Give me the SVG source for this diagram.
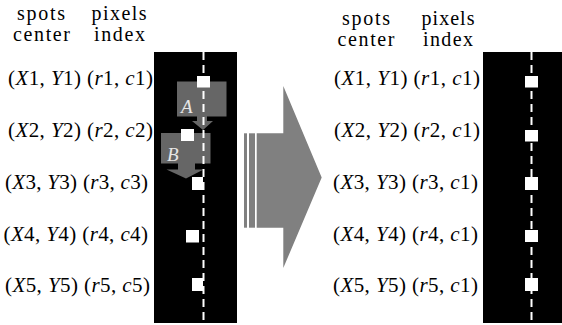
<svg xmlns="http://www.w3.org/2000/svg" width="562" height="325" viewBox="0 0 562 325">
<style>
.i{font-style:italic}
.panel{fill:#000}
.sq{fill:#fff}
.dash{stroke:#fff;stroke-width:2;stroke-dasharray:8 5;fill:none}
.box{fill:#666}
.big{fill:#808080}
</style>
<rect width="562" height="325" fill="#fff"/>
<g id="headers" font-family="'Liberation Serif', 'DejaVu Serif', serif" font-size="20" fill="#000">
<text x="41" y="20" text-anchor="middle" textLength="48">spots</text>
<text x="41.5" y="41" text-anchor="middle" textLength="57">center</text>
<text x="119" y="20" text-anchor="middle" textLength="55">pixels</text>
<text x="119.5" y="41" text-anchor="middle" textLength="51">index</text>
<text x="366" y="25" text-anchor="middle" textLength="48">spots</text>
<text x="366" y="46" text-anchor="middle" textLength="57">center</text>
<text x="448" y="25" text-anchor="middle" textLength="53">pixels</text>
<text x="448" y="46" text-anchor="middle" textLength="50">index</text>
</g>
<g id="left-labels" font-family="'Liberation Serif', 'DejaVu Serif', serif" font-size="21" fill="#000">
<text x="8" y="85" textLength="145">(<tspan class="i">X</tspan>1, <tspan class="i">Y</tspan>1) (<tspan class="i">r</tspan>1, <tspan class="i">c</tspan>1)</text>
<text x="8" y="137" textLength="145">(<tspan class="i">X</tspan>2, <tspan class="i">Y</tspan>2) (<tspan class="i">r</tspan>2, <tspan class="i">c</tspan>2)</text>
<text x="5" y="189" textLength="143">(<tspan class="i">X</tspan>3, <tspan class="i">Y</tspan>3) (<tspan class="i">r</tspan>3, <tspan class="i">c</tspan>3)</text>
<text x="3.5" y="241" textLength="144.5">(<tspan class="i">X</tspan>4, <tspan class="i">Y</tspan>4) (<tspan class="i">r</tspan>4, <tspan class="i">c</tspan>4)</text>
<text x="5" y="292" textLength="145">(<tspan class="i">X</tspan>5, <tspan class="i">Y</tspan>5) (<tspan class="i">r</tspan>5, <tspan class="i">c</tspan>5)</text>
</g>
<g id="right-labels" font-family="'Liberation Serif', 'DejaVu Serif', serif" font-size="21" fill="#000">
<text x="334" y="85" textLength="146">(<tspan class="i">X</tspan>1, <tspan class="i">Y</tspan>1) (<tspan class="i">r</tspan>1, <tspan class="i">c</tspan>1)</text>
<text x="334" y="137" textLength="146">(<tspan class="i">X</tspan>2, <tspan class="i">Y</tspan>2) (<tspan class="i">r</tspan>2, <tspan class="i">c</tspan>1)</text>
<text x="333" y="189" textLength="145">(<tspan class="i">X</tspan>3, <tspan class="i">Y</tspan>3) (<tspan class="i">r</tspan>3, <tspan class="i">c</tspan>1)</text>
<text x="333" y="241" textLength="145">(<tspan class="i">X</tspan>4, <tspan class="i">Y</tspan>4) (<tspan class="i">r</tspan>4, <tspan class="i">c</tspan>1)</text>
<text x="333" y="292" textLength="145">(<tspan class="i">X</tspan>5, <tspan class="i">Y</tspan>5) (<tspan class="i">r</tspan>5, <tspan class="i">c</tspan>1)</text>
</g>
<g id="left-panel">
<rect class="panel" x="154" y="52" width="83" height="271"/>
<rect class="box" x="177" y="81.5" width="49.5" height="35"/>
<polygon class="box" points="197,116 207,116 207,121 213,121 203,130 192,121 197,121"/>
<text x="181" y="113" font-family="'Liberation Serif', 'DejaVu Serif', serif" font-size="19" font-style="italic" fill="#e6e6e6">A</text>
<rect class="box" x="161" y="133" width="49.5" height="30.5"/>
<polygon class="box" points="178,163 195,163 195,169.5 203.5,169.5 186,178.5 166.5,169.5 178,169.5"/>
<text x="167" y="161" font-family="'Liberation Serif', 'DejaVu Serif', serif" font-size="19" font-style="italic" fill="#e6e6e6">B</text>
<rect class="sq" x="197" y="76" width="13" height="11.5"/>
<rect class="sq" x="181" y="129" width="13" height="12"/>
<rect class="sq" x="192" y="177" width="11" height="13"/>
<rect class="sq" x="186" y="230" width="13" height="12.5"/>
<rect class="sq" x="192" y="278" width="11" height="13"/>
<line class="dash" x1="203.5" y1="52" x2="203.5" y2="323"/>
</g>
<g id="transform-arrow">
<rect class="big" x="244" y="133.3" width="3" height="94.4"/>
<rect class="big" x="249" y="133.3" width="6" height="94.4"/>
<polygon class="big" points="256.7,133.3 283.3,133.3 283.3,86 321.7,177.5 283.3,268 283.3,227.7 256.7,227.7"/>
</g>
<g id="right-panel">
<rect class="panel" x="483" y="52" width="79" height="271"/>
<line class="dash" x1="531.5" y1="52" x2="531.5" y2="323"/>
<rect class="sq" x="525" y="76" width="13" height="11.5"/>
<rect class="sq" x="525" y="130" width="13" height="11.5"/>
<rect class="sq" x="525" y="177" width="13" height="13"/>
<rect class="sq" x="525" y="230" width="13" height="12"/>
<rect class="sq" x="525" y="278" width="13" height="13"/>
</g>
</svg>
